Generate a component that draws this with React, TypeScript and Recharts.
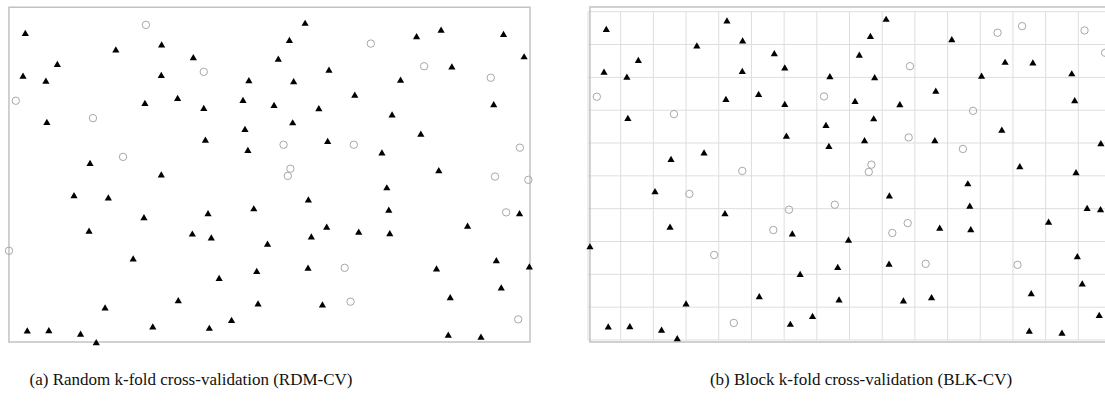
import React from 'react';
import { ScatterChart, Scatter, XAxis, YAxis, CartesianGrid, ReferenceArea } from 'recharts';

// Sample locations in block units (16 x 10 grid of blocks)
const pointX = [
  0.56, 4.25, 3.33, 4.73, 5.70, 6.02, 1.54, 0.49, 1.19, 4.72,
  7.40, 0.27, 4.22, 5.22, 6.02, 7.22, 2.63, 1.22, 7.28, 6.07,
  7.37, 3.55, 2.54, 4.72, 9.12, 8.64, 11.13, 12.53, 13.28, 15.19,
  15.82, 8.30, 9.85, 12.76, 13.61, 14.80, 8.77, 12.04, 10.64, 8.17,
  9.54, 14.89, 11.78, 8.74, 12.66, 8.46, 9.81, 10.61, 15.69, 11.47,
  8.67, 8.59, 13.21, 14.93, 15.95, 2.05, 3.10, 4.19, 6.15, 7.55,
  2.51, 5.67, 6.25, 7.97, 0.06, 3.86, 7.64, 6.49, 3.00, 5.24,
  7.68, 6.87, 0.62, 1.28, 2.25, 4.46, 6.19, 2.73, 11.62, 9.22,
  11.68, 15.27, 15.68, 9.78, 10.76, 11.71, 14.09, 9.31, 9.21, 10.33,
  13.14, 14.97, 15.98, 15.12, 13.56, 9.65, 10.51, 15.64, 13.50, 14.50,
];
const pointY = [
  9.46, 9.72, 8.96, 9.11, 8.72, 8.29, 8.52, 8.16, 8.01, 8.18,
  8.02, 7.41, 7.33, 7.48, 7.18, 7.42, 6.88, 6.75, 6.54, 6.21,
  5.90, 5.70, 5.50, 5.15, 9.77, 9.25, 9.15, 9.36, 9.56, 9.43,
  8.75, 8.68, 8.34, 8.46, 8.44, 8.11, 7.99, 8.04, 7.58, 7.27,
  7.17, 7.29, 6.98, 6.74, 6.39, 6.07, 6.17, 6.07, 5.98, 5.82,
  5.34, 5.12, 5.28, 5.10, 5.00, 4.52, 4.45, 3.85, 3.97, 4.12,
  3.44, 3.35, 3.23, 3.04, 2.84, 2.59, 2.21, 2.00, 1.10, 1.32,
  1.22, 0.72, 0.40, 0.41, 0.30, 0.52, 0.48, 0.04, 4.76, 4.39,
  4.08, 4.01, 3.97, 3.56, 3.41, 3.36, 3.59, 3.26, 2.31, 2.32,
  2.29, 2.54, 2.35, 1.71, 1.41, 1.19, 1.29, 0.75, 0.27, 0.21,
];
// Test-set samples (ids are 1-based) for each scheme
const rdmTestIds = [2, 6, 12, 17, 22, 27, 34, 36, 46, 48, 49, 51, 52, 54, 55, 65, 82, 90, 97, 98];
const blkTestIds = [12, 16, 17, 24, 28, 29, 30, 31, 33, 43, 47, 50, 51, 52, 55, 57, 59, 60, 62, 66, 76, 84, 88, 90, 91];
const blockX = [0, 1, 2, 3, 4, 5, 6, 7, 8, 9, 10, 11, 12, 13, 14, 15, 16];
const blockY = [0, 1, 2, 3, 4, 5, 6, 7, 8, 9, 10];
const captions = ['(a) Random k-fold cross-validation (RDM-CV)', '(b) Block k-fold cross-validation (BLK-CV)'];

type Pt = { id: number; x: number; y: number };
const points: Pt[] = pointX.map((x, i) => ({ id: i + 1, x, y: pointY[i] }));
const splitBy = (ids: number[]) => ({
  train: points.filter((p) => !ids.includes(p.id)),
  test: points.filter((p) => ids.includes(p.id)),
});

const Triangle = (props: any) => {
  const { cx, cy } = props;
  if (cx == null || cy == null) return null;
  return (
    <polygon
      points={`${cx},${cy - 3.6} ${cx + 3.6},${cy + 2.6} ${cx - 3.6},${cy + 2.6}`}
      fill="#000"
    />
  );
};

const Ring = (props: any) => {
  const { cx, cy } = props;
  if (cx == null || cy == null) return null;
  return <circle cx={cx} cy={cy} r={3.7} fill="none" stroke="#a8a8a8" strokeWidth={1} />;
};

type PanelProps = {
  left: number;
  width: number;
  height: number;
  margin: { top: number; right: number; bottom: number; left: number };
  frameY: [number, number];
  grid: boolean;
  testIds: number[];
};

const Panel = ({ left, width, height, margin, frameY, grid, testIds }: PanelProps) => {
  const { train, test } = splitBy(testIds);
  return (
    <div style={{ position: 'absolute', left, top: 0 }}>
      <ScatterChart width={width} height={height} margin={margin}>
        <XAxis type="number" dataKey="x" domain={[0, 16]} ticks={blockX} hide />
        <YAxis type="number" dataKey="y" domain={[0, 10]} ticks={blockY} hide />
        {grid && (
          <CartesianGrid
            stroke="#dedede"
            strokeWidth={1}
            verticalValues={blockX}
            horizontalValues={blockY}
          />
        )}
        <ReferenceArea
          x1={0.06}
          x2={16}
          y1={frameY[0]}
          y2={frameY[1]}
          ifOverflow="visible"
          fill="none"
          stroke="#c2c2c2"
          strokeWidth={1.5}
        />
        <Scatter data={train} shape={<Triangle />} isAnimationActive={false} />
        <Scatter data={test} shape={<Ring />} isAnimationActive={false} />
      </ScatterChart>
    </div>
  );
};

const captionStyle = (cx: number): React.CSSProperties => ({
  position: 'absolute',
  left: cx - 250,
  width: 500,
  top: 370,
  lineHeight: '20px',
  textAlign: 'center',
  fontFamily: '"Liberation Serif", "DejaVu Serif", serif',
  fontSize: 17,
  color: '#111',
});

export default function App() {
  return (
    <div
      style={{
        position: 'absolute',
        left: 0,
        top: 0,
        width: 1105,
        height: 408,
        overflow: 'hidden',
        background: '#fff',
      }}
    >
      <Panel
        left={0}
        width={545}
        height={360}
        margin={{ top: 15.7, right: 15, bottom: 16, left: 7 }}
        frameY={[0.06, 10.26]}
        grid={false}
        testIds={rdmTestIds}
      />
      <Panel
        left={560}
        width={560}
        height={360}
        margin={{ top: 11.7, right: 9, bottom: 20, left: 28 }}
        frameY={[-0.06, 10.14]}
        grid={true}
        testIds={blkTestIds}
      />
      <div style={captionStyle(191)}>{captions[0]}</div>
      <div style={captionStyle(861)}>{captions[1]}</div>
    </div>
  );
}
